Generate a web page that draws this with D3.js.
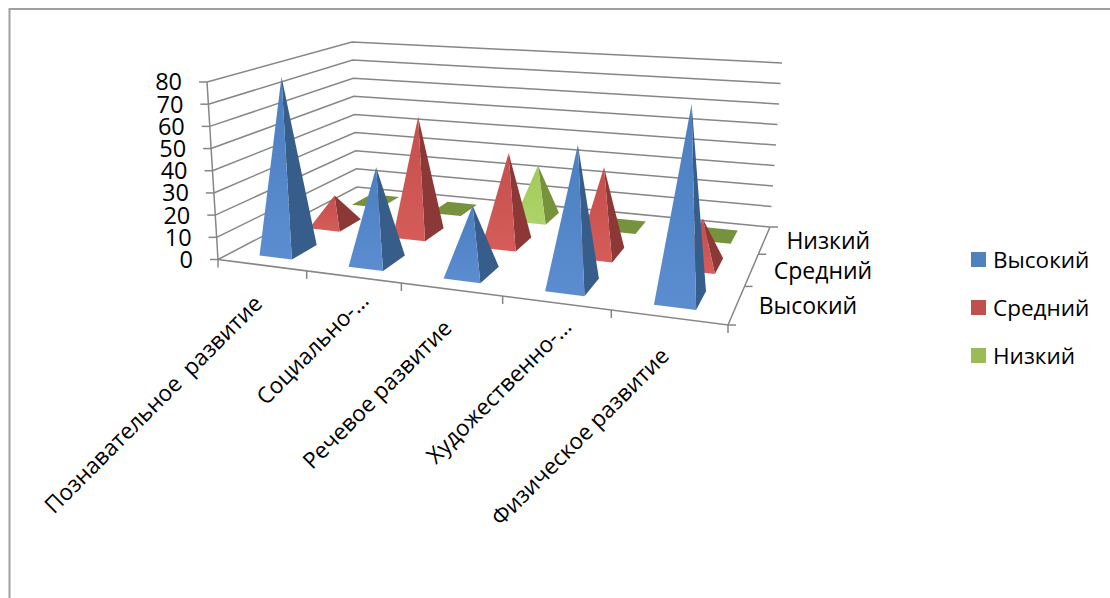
<!DOCTYPE html>
<html lang="ru">
  <head>
    <meta charset="utf-8">
    <title>Уровни развития</title>
    <style>
    body { margin: 0; background: #fff; }
    svg { display: block; }
    text { font-family: "Open Sans", sans-serif; fill: #000; white-space: pre; }
    .grid { fill: none; stroke: #868686; stroke-width: 1.5; }
    </style>
    <script src="https://cdnjs.cloudflare.com/ajax/libs/d3/7.8.5/d3.min.js"></script>
  </head>
  <body>
    <script>
      var categories = ["Познавательное  развитие", "Социально-…", "Речевое развитие", "Художественно-…", "Физическое развитие"];
      var series = ["Высокий", "Средний", "Низкий"];
      var vysoky = [80, 42, 29, 59, 79];
      var sredny = [14, 56, 42, 39, 20];
      var nizky = [0, 0, 26, 0, 0];
      var valueTicks = [0, 10, 20, 30, 40, 50, 60, 70, 80];

      var width = 1110, height = 598;
      var svg = d3.select("body").append("svg").attr("width", width).attr("height", height);

      // рамка
      svg.append("path").attr("d", "M9.5,598V9H1110").attr("fill", "none").attr("stroke", "#a0a0a0").attr("stroke-width", 2);

      // square -> quad homography, points in order (0,0) (1,0) (1,1) (0,1)
      function quad(p) {
        var dx1 = p[1][0] - p[2][0], dy1 = p[1][1] - p[2][1],
            dx2 = p[3][0] - p[2][0], dy2 = p[3][1] - p[2][1],
            sx = p[0][0] - p[1][0] + p[2][0] - p[3][0],
            sy = p[0][1] - p[1][1] + p[2][1] - p[3][1],
            den = dx1 * dy2 - dx2 * dy1,
            g = (sx * dy2 - dx2 * sy) / den,
            h = (dx1 * sy - sx * dy1) / den;
        return function(u, v) {
          var w = g * u + h * v + 1;
          return [((p[1][0] - p[0][0] + g * p[1][0]) * u + (p[3][0] - p[0][0] + h * p[3][0]) * v + p[0][0]) / w,
                  ((p[1][1] - p[0][1] + g * p[1][1]) * u + (p[3][1] - p[0][1] + h * p[3][1]) * v + p[0][1]) / w];
        };
      }

      // пол и верх куба
      var floor = quad([[218, 259.5], [728, 325], [770, 227], [357, 187]]);
      var ceil = quad([[207, 82], [741.5, 116], [782, 63], [352, 42]]);

      var xScale = d3.scaleBand().domain(categories).range([0.001, 1.001]).paddingInner(0.63).paddingOuter(0.315);
      var rowScale = d3.scaleBand().domain(series).range([0, 1]).paddingInner(0.5).paddingOuter(0.25);
      var zScale = d3.scaleLinear().domain([0, 80]).range([0, 1]);

      function project(u, v, val) {
        var a = floor(u, v), b = ceil(u, v), t = zScale(val);
        return [a[0] + (b[0] - a[0]) * t, a[1] + (b[1] - a[1]) * t];
      }

      var line = d3.line();
      var g = svg.append("g");

      // сетка
      valueTicks.forEach(function(t) {
        g.append("path").attr("class", "grid").attr("d", line([project(0, 0, t), project(0, 1, t), project(1, 1, t)]));
      });
      g.append("path").attr("class", "grid").attr("d", line([project(0, 0, 0), project(0, 0, 80)]));
      g.append("path").attr("class", "grid").attr("d", line([project(0, 0, 0), project(1, 0, 0), project(1, 1, 0)]));

      // риски и подписи оси значений
      valueTicks.forEach(function(t) {
        var p = project(0, 0, t);
        g.append("path").attr("class", "grid").attr("d", line([p, [p[0] - 8, p[1]]]));
        g.append("text").attr("x", p[0] - 25).attr("y", p[1]).attr("dy", "0.36em")
          .attr("text-anchor", "end").attr("font-size", 23.5).text(t);
      });

      // риски категорий
      d3.range(categories.length + 1).forEach(function(i) {
        var p = project(i / categories.length, 0, 0);
        g.append("path").attr("class", "grid").attr("d", line([p, [p[0], p[1] + 8]]));
      });
      categories.forEach(function(c, i) {
        var p = project((i + 0.5) / categories.length, 0, 0);
        // обрезанные подписи в оригинале сдвинуты вдоль наклона
        var shift = c.endsWith("…") ? 21 : 0;
        g.append("text").attr("transform", "translate(" + (p[0] + 2) + "," + (p[1] + 40) + ") rotate(-45)")
          .attr("x", shift).attr("text-anchor", "end").attr("font-size", 22.5).text(c);
      });

      // риски и подписи рядов
      d3.range(series.length + 1).forEach(function(i) {
        var p = project(1, i / series.length, 0);
        g.append("path").attr("class", "grid").attr("d", line([p, [p[0] + 8, p[1]]]));
      });
      series.forEach(function(s, i) {
        var p = project(1, (i + 0.5) / series.length, 0);
        g.append("text").attr("x", p[0] + 22).attr("y", p[1] + 1).attr("dy", "0.36em")
          .attr("font-size", 23).text(s);
      });

      // градиенты лицевых граней
      var defs = svg.append("defs");
      function faceGradient(id, top, bottom) {
        var lg = defs.append("linearGradient").attr("id", id).attr("x1", 0).attr("y1", 0).attr("x2", 0).attr("y2", 1);
        lg.append("stop").attr("offset", "0%").attr("stop-color", top);
        lg.append("stop").attr("offset", "100%").attr("stop-color", bottom);
        return "url(#" + id + ")";
      }

      // пирамиды
      var rows = [
        { name: series[0], values: vysoky, front: faceGradient("fb", "#4b7fc0", "#5b8dd0"), side: "#375d8a", base: "#375d8a" },
        { name: series[1], values: sredny, front: faceGradient("fr", "#c44f4c", "#d55c59"), side: "#8c3836", base: "#8c3836" },
        { name: series[2], values: nizky, front: faceGradient("fg", "#a2c95b", "#add468"), side: "#76923c", base: "#76923c" }
      ];
      // сзади вперёд
      rows.slice().reverse().forEach(function(r) {
        var v0 = rowScale(r.name), v1 = v0 + rowScale.bandwidth();
        r.values.forEach(function(val, i) {
          var c = categories[i], u0 = xScale(c), u1 = u0 + xScale.bandwidth();
          var top = project((u0 + u1) / 2, (v0 + v1) / 2, val);
          var a = project(u0, v0, 0), b = project(u1, v0, 0), d = project(u1, v1, 0), e = project(u0, v1, 0);
          if (val === 0) {
            g.append("path").attr("d", line([a, b, d, e]) + "Z").attr("fill", r.base);
            return;
          }
          g.append("path").attr("d", line([b, d, top]) + "Z").attr("fill", r.side);
          g.append("path").attr("d", line([a, b, top]) + "Z").attr("fill", r.front);
        });
      });

      // легенда
      var legendColors = d3.scaleOrdinal().domain(series).range(["#4f81bd", "#c0504d", "#9bbb59"]);
      var legendY = d3.scalePoint().domain(series).range([259.5, 355.5]);
      series.forEach(function(s) {
        svg.append("rect").attr("x", 971).attr("y", legendY(s) - 7.5).attr("width", 15).attr("height", 15).attr("fill", legendColors(s));
        svg.append("text").attr("x", 993).attr("y", legendY(s)).attr("dy", "0.36em").attr("font-size", 22.5).text(s);
      });
    </script>
  </body>
</html>
